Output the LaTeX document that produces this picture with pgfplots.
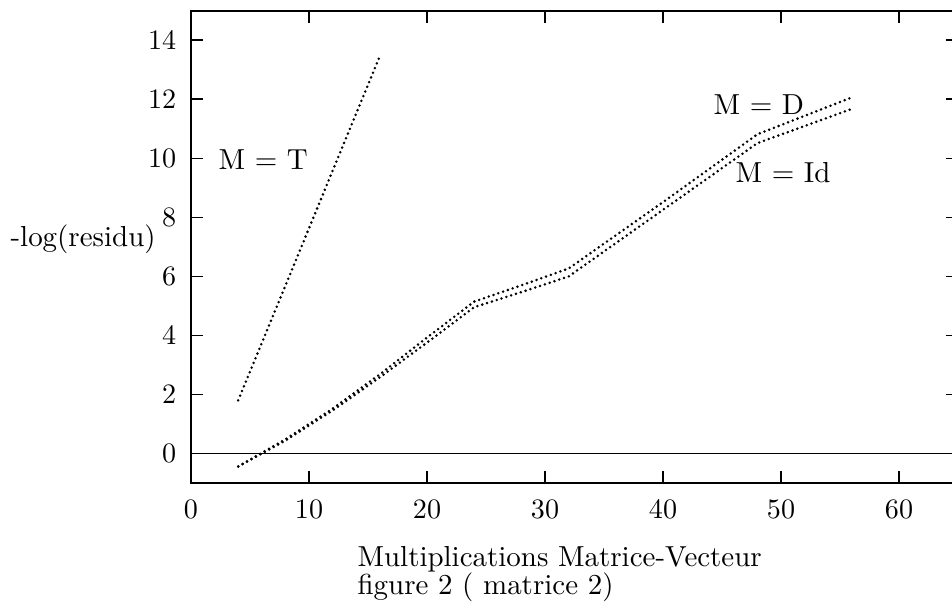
\documentclass[border=0pt]{standalone}
\usepackage{pgfplots}
\pgfplotsset{compat=1.18}
\begin{document}
\begin{tikzpicture}[every node/.style={font=\fontsize{10.3}{12}\selectfont}]
\begin{axis}[
  scale only axis,
  width=9.5875cm, height=5.9cm,
  xmin=0, xmax=65, ymin=-1, ymax=15,
  xtick={0,10,...,60}, ytick={0,2,...,14},
  tick align=inside,
  major tick length=0.15cm,
  axis line style={line width=0.7pt},
  every tick/.style={black, line width=0.7pt},
  tick label style={font=\fontsize{10.3}{12}\selectfont},
  xticklabel style={yshift=-0.095cm},
  yticklabel style={xshift=-0.06cm},
  clip=false,
  dotline/.style={black, line width=1pt, line cap=round, dash pattern=on 0pt off 1.8pt},
]
\draw[line width=0.7pt] (axis cs:0,0) -- (axis cs:65,0);
% M = T
\addplot[dotline] coordinates {(4,1.8) (16,13.47)};
% M = D
\addplot[dotline] coordinates {
 (4,-0.44) (8,0.48) (12,1.52) (16,2.68) (20,3.93) (24,5.15) (28,5.7) (32,6.27)
 (40,8.52) (48,10.82) (56,12.07)};
% M = Id
\addplot[dotline] coordinates {
 (4,-0.44) (8,0.44) (12,1.46) (16,2.58) (20,3.76) (24,4.96) (28,5.47) (32,6.0)
 (40,8.26) (48,10.52) (56,11.68)};
\end{axis}
\node[anchor=base west, inner sep=0] at (0.3375,3.9125) {M = T};
\node[anchor=base west, inner sep=0] at (6.525,4.6) {M = D};
\node[anchor=base west, inner sep=0] at (6.8,3.75) {M = Id};
\node[anchor=base west, inner sep=0] at (-2.2625,2.95) {-log(residu)};
\node[anchor=base west, inner sep=0] at (2.075,-1.05) {Multiplications Matrice-Vecteur};
\node[anchor=base west, inner sep=0] at (2.075,-1.4) {figure 2 ( matrice 2)};
\pgfresetboundingbox
\path (-2.3875,-1.625) rectangle (9.5125,6.0375);
\end{tikzpicture}
\end{document}
